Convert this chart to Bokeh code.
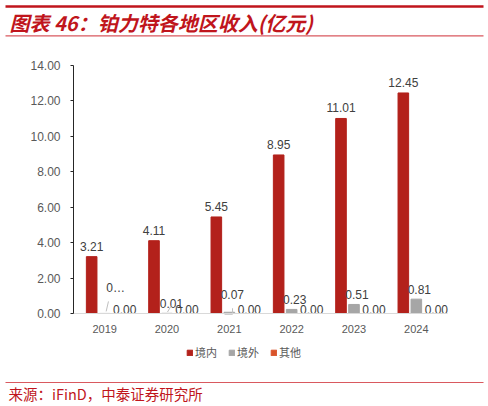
from bokeh.plotting import figure
from bokeh.models import (ColumnDataSource, Legend, LegendItem, Label, BoxAnnotation,
                          FixedTicker, Range1d, NumeralTickFormatter)
from bokeh.core.properties import value
from bokeh.embed import file_html
from bokeh.resources import INLINE

years = ["2019", "2020", "2021", "2022", "2023", "2024"]
domestic = [3.21, 4.11, 5.45, 8.95, 11.01, 12.45]
overseas = [0.004, 0.01, 0.07, 0.23, 0.51, 0.81]
other = [0.0, 0.0, 0.0, 0.0, 0.0, 0.0]
domestic_labels = ["3.21", "4.11", "5.45", "8.95", "11.01", "12.45"]
overseas_labels = ["0…", "0.01", "0.07", "0.23", "0.51", "0.81"]
other_labels = ["0.00", "0.00", "0.00", "0.00", "0.00", "0.00"]
series_names = ["境内", "境外", "其他"]
y_ticks = [0, 2, 4, 6, 8, 10, 12, 14]
title_text = "图表 46：铂力特各地区收入(亿元)"
source_text = "来源：iFinD，中泰证券研究所"

RED = "#B3211B"
GRAY = "#A6A6A6"
ORANGE = "#D9532A"
TXT = "#404040"
TITLE_RED = "#C0151C"
RULE = "#D9595F"
LEADER = "#BFBFBF"

W, H = 488, 406
# plot area in canvas pixels
PL, PR, PT, PB = 73, 447, 65, 313
YMAX = 14
ux = (PR - PL) / len(years)
uy = (PB - PT) / YMAX

p = figure(width=W, height=H, output_backend="svg", toolbar_location=None,
           x_range=Range1d(-PL / ux, len(years) + (W - PR) / ux),
           y_range=Range1d(-(H - PB) / uy, YMAX + PT / uy),
           min_border=0, outline_line_color=None)
p.title.visible = False
p.grid.visible = False

xc = [i + 0.5 for i in range(len(years))]
off = 13 / ux
bw = 10.6 / ux

src = ColumnDataSource(dict(
    x1=[x - off for x in xc], x2=xc, x3=[x + off for x in xc],
    d=domestic, o=overseas, t=other,
    dl=domestic_labels, tl=other_labels,
))

r1 = p.vbar(x="x1", top="d", width=bw, color=RED, source=src)
r2 = p.vbar(x="x2", top="o", width=bw, color=GRAY, source=src)
r3 = p.vbar(x="x3", top="t", width=bw, color=ORANGE, source=src)

font = value("Liberation Sans")
p.text(x="x1", y="d", text="dl", source=src, text_align="center", text_baseline="bottom",
       y_offset=-6, text_font=font, text_font_size="12px", text_color=TXT)

# overseas labels: larger bars labelled directly above, tiny ones lifted with leader lines
big = [i for i, v in enumerate(overseas) if v >= 0.2]
small = [i for i, v in enumerate(overseas) if v < 0.2]
lift = {0: 18, 1: 5, 2: 13}
sx_off = {0: 11, 1: 4.5, 2: 3}
s_big = ColumnDataSource(dict(x=[xc[i] for i in big], y=[overseas[i] for i in big],
                              t=[overseas_labels[i] for i in big]))
p.text(x="x", y="y", text="t", source=s_big, text_align="center", text_baseline="bottom",
       x_offset=3, y_offset=-5, text_font=font, text_font_size="12px", text_color=TXT)
s_small = ColumnDataSource(dict(x=[xc[i] for i in small], y=[overseas[i] for i in small],
                                t=[overseas_labels[i] for i in small],
                                xo=[sx_off[i] for i in small], yo=[-lift[i] for i in small]))
p.text(x="x", y="y", text="t", source=s_small, text_align="center", text_baseline="bottom",
       x_offset="xo", y_offset="yo", text_font=font, text_font_size="12px", text_color=TXT)

# leader lines for the lifted labels
p.segment(x0=[xc[0] + 1.5 / ux, xc[1] + 0.5 / ux], y0=[overseas[0] + 2 / uy, overseas[1] + 1.3 / uy],
          x1=[xc[0] + 3.8 / ux, xc[1] + 4.5 / ux], y1=[overseas[0] + 12 / uy, overseas[1] + 8 / uy],
          line_color=LEADER, line_width=1)
p.segment(x0=[xc[2] - 4.8 / ux, xc[2] + 3.2 / ux], y0=[overseas[2] - 2 / uy, overseas[2] - 2 / uy],
          x1=[xc[2] + 3.2 / ux, xc[2] + 3.2 / ux], y1=[overseas[2] - 2 / uy, overseas[2] + 4 / uy],
          line_color=LEADER, line_width=1)

p.text(x="x3", y="t", text="tl", source=src, text_align="center", text_baseline="bottom",
       x_offset=7, y_offset=0, text_font=font, text_font_size="12px", text_color=TXT)

# axes placed at the plot area's edges
p.xaxis.fixed_location = 0
p.xaxis.bounds = (0, len(years))
p.xaxis.ticker = FixedTicker(ticks=xc)
p.xaxis.major_label_overrides = {x: y for x, y in zip(xc, years)}
p.xaxis.major_tick_line_color = None
p.xaxis.minor_tick_line_color = None
p.xaxis.axis_line_color = "#D9D9D9"
p.xaxis.major_label_standoff = 5
p.xaxis.major_label_text_font = "Liberation Sans"
p.xaxis.major_label_text_font_size = "11px"
p.xaxis.major_label_text_color = "#595959"

p.yaxis.fixed_location = 0
p.yaxis.bounds = (0, YMAX)
p.yaxis.ticker = FixedTicker(ticks=y_ticks)
p.yaxis.formatter = NumeralTickFormatter(format="0.00")
p.yaxis.axis_line_color = "#262626"
p.yaxis.major_tick_line_color = "#262626"
p.yaxis.major_tick_in = 0
p.yaxis.major_tick_out = 3
p.yaxis.minor_tick_line_color = None
p.yaxis.major_label_standoff = 10
p.yaxis.major_label_text_font = "Liberation Sans"
p.yaxis.major_label_text_font_size = "12px"
p.yaxis.major_label_text_color = "#595959"

legend = Legend(items=[LegendItem(label=series_names[0], renderers=[r1]),
                       LegendItem(label=series_names[1], renderers=[r2]),
                       LegendItem(label=series_names[2], renderers=[r3])],
                location=(186, 46), orientation="horizontal",
                glyph_width=7, glyph_height=7, label_standoff=2, spacing=11,
                padding=0, margin=0, border_line_color=None, background_fill_alpha=0,
                label_text_font="Noto Sans CJK SC", label_text_font_size="11px",
                label_text_color="#595959", label_height=12, label_width=20)
p.add_layout(legend, "center")

# header, rules and source
def rule(top, bottom, color):
    p.add_layout(BoxAnnotation(left=5, right=483, top=H - top, bottom=H - bottom,
                               left_units="screen", right_units="screen",
                               top_units="screen", bottom_units="screen",
                               fill_color=color, fill_alpha=1, line_color=None))

rule(4.8, 7.3, TITLE_RED)
rule(34.8, 36, RULE)
rule(381.4, 382.6, RULE)

p.add_layout(Label(x=9, y=H - 22, x_units="screen", y_units="screen",
                   text=title_text, text_baseline="middle",
                   text_font="Noto Sans CJK SC", text_font_style="bold italic",
                   text_font_size="20px", text_color=TITLE_RED))
p.add_layout(Label(x=8, y=H - 393, x_units="screen", y_units="screen",
                   text=source_text, text_baseline="middle",
                   text_font="Noto Sans CJK SC", text_font_size="14.5px",
                   text_color=TITLE_RED))

open("out.html", "w").write(file_html(p, INLINE))
